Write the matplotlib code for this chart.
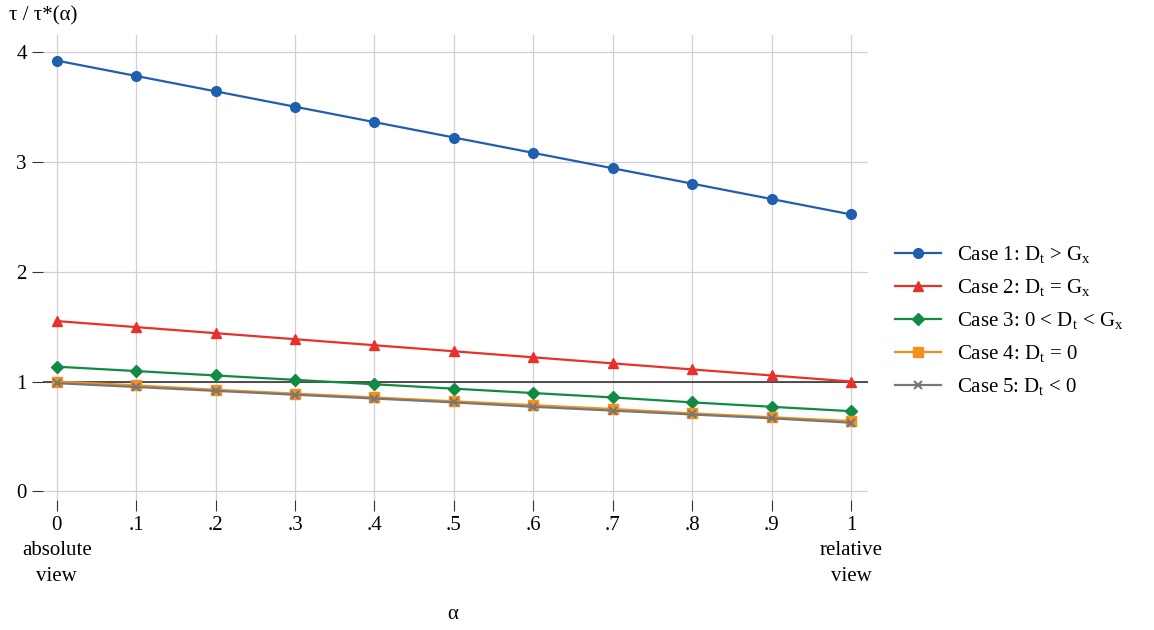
import matplotlib
matplotlib.use("Agg")
import matplotlib.pyplot as plt

alpha = [0, .1, .2, .3, .4, .5, .6, .7, .8, .9, 1]
case1 = [3.92, 3.78, 3.64, 3.50, 3.36, 3.22, 3.08, 2.94, 2.80, 2.66, 2.52]
case2 = [1.55, 1.495, 1.44, 1.385, 1.33, 1.275, 1.22, 1.165, 1.11, 1.055, 1.0]
case3 = [1.135, 1.095, 1.055, 1.015, 0.975, 0.935, 0.895, 0.855, 0.81, 0.77, 0.73]
case4 = [1.0, 0.965, 0.925, 0.89, 0.855, 0.82, 0.785, 0.75, 0.71, 0.675, 0.64]
case5 = [0.985, 0.95, 0.915, 0.88, 0.845, 0.81, 0.77, 0.735, 0.70, 0.665, 0.625]
xticklabels = ["0\nabsolute\nview", ".1", ".2", ".3", ".4", ".5", ".6", ".7", ".8", ".9", "1\nrelative\nview"]

series = [
    (case1, "#1f5fad", "o", "Case 1: D$_\\mathregular{t}$ > G$_\\mathregular{x}$"),
    (case2, "#e8312a", "^", "Case 2: D$_\\mathregular{t}$ = G$_\\mathregular{x}$"),
    (case3, "#118a44", "D", "Case 3: 0 < D$_\\mathregular{t}$ < G$_\\mathregular{x}$"),
    (case4, "#f4901e", "s", "Case 4: D$_\\mathregular{t}$ = 0"),
    (case5, "#777777", "x", "Case 5: D$_\\mathregular{t}$ < 0"),
]

plt.rcParams["font.family"] = "Liberation Serif"
plt.rcParams["mathtext.fontset"] = "custom"
plt.rcParams["mathtext.rm"] = "Liberation Serif"

fig = plt.figure(figsize=(11.54, 6.3), dpi=100)
ax = fig.add_axes([0.037, 0.206, 0.715, 0.738])

ax.axhline(1, color="#333333", lw=1.2, zorder=1)
for ys, c, m, lab in series:
    ms = 7 if m not in ("D", "x") else 6
    ax.plot(alpha, ys, color=c, marker=m, ms=ms, lw=1.6, label=lab, zorder=3,
            mew=1.5 if m == "x" else 1)

ax.set_xlim(-0.0176, 1.021)
ax.set_ylim(-0.08, 4.15)
ax.set_xticks(alpha)
ax.set_xticklabels(xticklabels, fontsize=15, va="top", linespacing=1.45)
ax.set_yticks([0, 1, 2, 3, 4])
ax.tick_params(axis="y", labelsize=15, length=8, color="#333333")
ax.tick_params(axis="x", length=8, color="#333333")
ax.grid(True, color="#d0d0d0", lw=0.9)
ax.set_axisbelow(True)
for sp in ax.spines.values():
    sp.set_visible(False)

fig.text(0.392, 0.01, "α", fontsize=15, ha="center", va="bottom")
fig.text(0.008, 0.975, "τ / τ*(α)", fontsize=15, ha="left", va="center")

ax.legend(loc="center left", bbox_to_anchor=(1.01, 0.385), frameon=False, fontsize=15,
          handlelength=2.2, labelspacing=0.55)

fig.savefig("out.png", dpi=100)
